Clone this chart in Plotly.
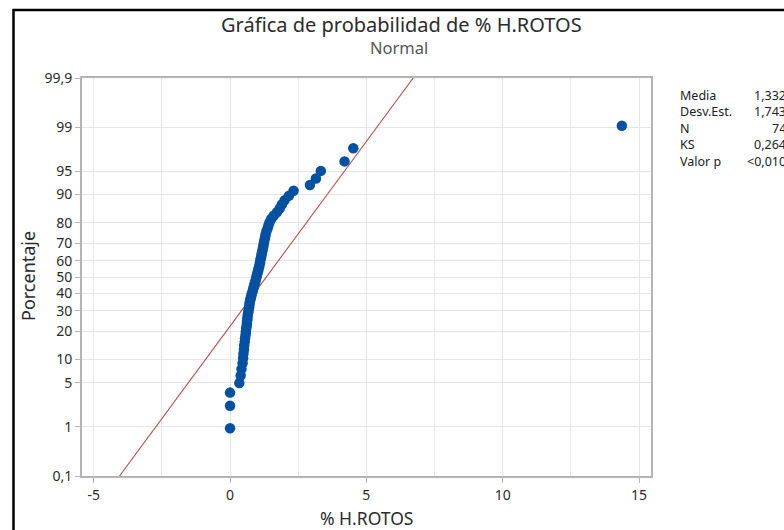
from statistics import NormalDist
import plotly.graph_objects as go

# % H.ROTOS observations (sorted), n = 74
h_rotos = [
    0.00, 0.00, 0.00, 0.34, 0.39, 0.42, 0.46, 0.48, 0.49, 0.51,
    0.52, 0.54, 0.55, 0.57, 0.58, 0.59, 0.61, 0.62, 0.63, 0.64,
    0.65, 0.67, 0.68, 0.70, 0.71, 0.72, 0.74, 0.76, 0.78, 0.80,
    0.83, 0.85, 0.87, 0.89, 0.92, 0.94, 0.96, 0.98, 1.00, 1.02,
    1.04, 1.06, 1.08, 1.10, 1.11, 1.13, 1.15, 1.16, 1.18, 1.20,
    1.22, 1.23, 1.25, 1.27, 1.29, 1.31, 1.34, 1.38, 1.41, 1.45,
    1.51, 1.60, 1.72, 1.82, 1.90, 2.00, 2.16, 2.33, 2.93, 3.15,
    3.33, 4.20, 4.52, 14.37,
]

# summary statistics shown in the side panel
media = 1.332
desv_est = 1.743
stat_labels = ["Media", "Desv.Est.", "N", "KS", "Valor p"]
stat_values = ["1,332", "1,743", "74", "0,264", "<0,010"]

# probability-scale ticks (percent) and their labels
prob_ticks = [0.1, 1, 5, 10, 20, 30, 40, 50, 60, 70, 80, 90, 95, 99, 99.9]
prob_text = ["0,1", "1", "5", "10", "20", "30", "40", "50", "60", "70", "80",
             "90", "95", "99", "99,9"]
x_ticks = [-5, 0, 5, 10, 15]

nd = NormalDist()
n = len(h_rotos)
# median-rank plotting positions on the normal quantile scale
z_pts = [nd.inv_cdf((i - 0.3) / (n + 0.4)) for i in range(1, n + 1)]
z_ticks = [nd.inv_cdf(p / 100) for p in prob_ticks]
z_lo, z_hi = z_ticks[0], z_ticks[-1]

W, H = 784, 530
L, R, T, B = 82, 651, 78, 476  # plot area in pixels

def px(x):
    return (x - L) / (R - L)

def py(y):
    return (B - y) / (B - T)

FONT = "Noto Sans"
TXT = "#2b2b2b"
fig = go.Figure()

# fitted normal line
fig.add_trace(go.Scatter(
    x=[media + desv_est * z_lo, media + desv_est * z_hi],
    y=[z_lo, z_hi],
    mode="lines",
    line=dict(color="#b8504c", width=1.1),
    hoverinfo="skip",
))

fig.add_trace(go.Scatter(
    x=h_rotos, y=z_pts,
    mode="markers",
    marker=dict(color="#0451a3", size=10.5, line=dict(width=0)),
))

grid = "#e6e6e6"
axis_col = "#b4b4b4"
fig.update_xaxes(
    range=[-5.43, 15.44], tickvals=x_ticks, ticktext=[str(v) for v in x_ticks],
    showgrid=True, gridcolor=grid, gridwidth=1,
    minor=dict(dtick=2.5, tick0=0, showgrid=True, gridcolor=grid, gridwidth=1),
    zeroline=False, showline=True, linecolor=axis_col, linewidth=2, mirror=True,
    ticks="outside", ticklen=5, tickcolor=axis_col,
    tickfont=dict(family=FONT, size=14, color=TXT),
)
fig.update_yaxes(
    range=[z_lo, z_hi], tickvals=z_ticks, ticktext=prob_text,
    showgrid=True, gridcolor=grid, gridwidth=1,
    zeroline=False, showline=True, linecolor=axis_col, linewidth=2, mirror=True,
    ticks="outside", ticklen=5, tickcolor=axis_col,
    tickfont=dict(family=FONT, size=14, color=TXT),
)

annotations = [
    dict(text="Gráfica de probabilidad de % H.ROTOS", x=px(401), y=py(25),
         font=dict(family=FONT, size=20, color=TXT)),
    dict(text="Normal", x=px(399), y=py(47),
         font=dict(family=FONT, size=16.5, color="#555555")),
    dict(text="% H.ROTOS", x=px(366), y=py(518),
         font=dict(family=FONT, size=17.5, color=TXT)),
    dict(text="Porcentaje", x=px(28), y=py(276), textangle=-90,
         font=dict(family=FONT, size=18, color=TXT)),
]
for k, (lab, val) in enumerate(zip(stat_labels, stat_values)):
    yy = py(95 + 16.5 * k)
    annotations.append(dict(text=lab, x=px(678), y=yy, xanchor="left",
                            font=dict(family=FONT, size=12.5, color="#222222")))
    annotations.append(dict(text=val, x=px(788), y=yy, xanchor="right",
                            font=dict(family=FONT, size=12.5, color="#222222")))
for a in annotations:
    a.update(xref="paper", yref="paper", showarrow=False)
    a.setdefault("xanchor", "center")
    a["yanchor"] = "middle"

fig.update_layout(
    width=W, height=H,
    margin=dict(l=L, r=W - R, t=T, b=H - B),
    paper_bgcolor="white", plot_bgcolor="white",
    showlegend=False,
    annotations=annotations,
    shapes=[dict(type="rect", xref="paper", yref="paper",
                 x0=px(13.5), y0=py(600), x1=px(900), y1=py(10),
                 line=dict(color="black", width=2.5), layer="above")],
)

fig.write_html("out.html")
